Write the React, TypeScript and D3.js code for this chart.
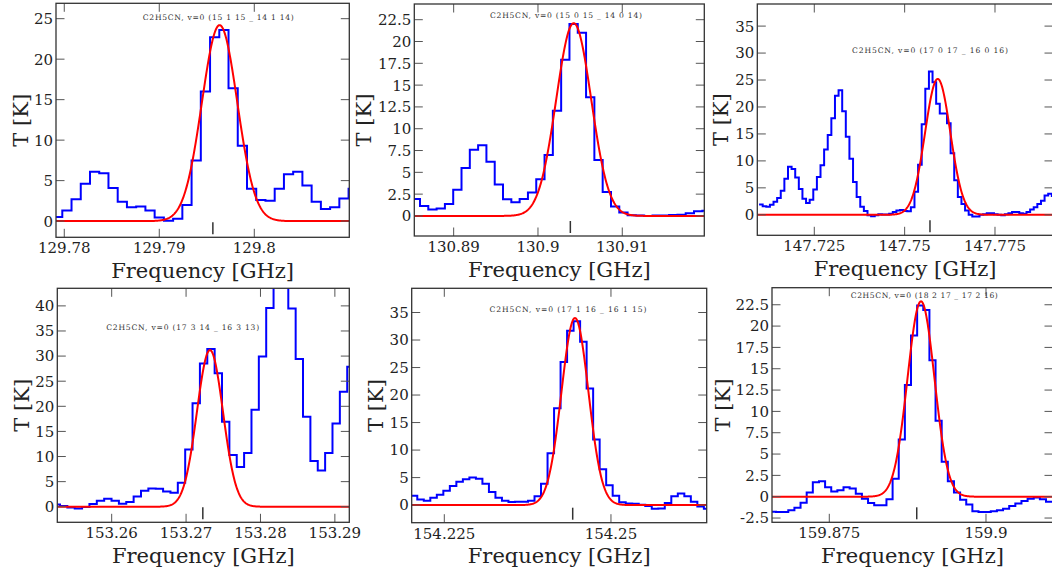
import React from "react";
import * as d3 from "d3";

// ---------------- DATA ----------------
const titles = [
  "C2H5CN, v=0 (15 1 15 _ 14 1 14)",
  "C2H5CN, v=0 (15 0 15 _ 14 0 14)",
  "C2H5CN, v=0 (17 0 17 _ 16 0 16)",
  "C2H5CN, v=0 (17 3 14 _ 16 3 13)",
  "C2H5CN, v=0 (17 1 16 _ 16 1 15)",
  "C2H5CN, v=0 (18 2 17 _ 17 2 16)",
];

// first channel lower edge (GHz) and channel width (GHz) per spectrum
const channelStarts = [129.77882, 130.88502, 147.70972, 153.25206, 154.21997, 159.86552];
const channelWidths = [0.000972, 0.000985, 0.001, 0.00099, 0.000977, 0.000979];

const spectrum1 = [0.5, 1.3, 2.7, 4.6, 6.1, 5.9, 4.1, 2.4, 1.7, 1.8, 1.3, 0.45, 0.05, 0.3, 2.0, 7.5, 16.0, 22.7, 23.6, 16.4, 9.3, 4.0, 2.6, 2.5, 4.0, 5.8, 6.1, 4.4, 2.4, 1.5, 1.7, 2.8, 4.0];
const spectrum2 = [1.95, 1.15, 0.73, 0.84, 1.38, 3.0, 5.5, 7.6, 8.1, 6.2, 3.6, 1.9, 1.57, 1.95, 2.7, 4.2, 7.0, 12.05, 17.9, 22.0, 21.0, 13.6, 6.4, 2.75, 1.07, 0.4, 0.08, 0.04, 0.0, 0.04, 0.04, 0.1, 0.15, 0.3, 0.55, 0.6, 0.6];
const spectrum3 = [1.9, 1.6, 1.5, 1.85, 2.4, 3.1, 4.45, 6.7, 8.9, 8.5, 6.9, 4.8, 3.0, 2.2, 2.8, 4.7, 7.0, 9.2, 12.1, 14.8, 17.9, 22.1, 23.1, 19.2, 14.5, 10.4, 6.1, 3.3, 1.5, 0.7, -0.06, -0.25, -0.06, 0.12, 0.06, 0.06, 0.2, 0.5, 0.8, 0.87,
  0.7, 0.65, 1.4, 4.3, 9.3, 16.8, 23.4, 26.6, 24.6, 20.6, 18.8, 18.8, 17.0, 11.4, 6.4, 3.3, 2.0, 0.8, 0.0, -0.3, -0.3, 0.0, 0.1, 0.3, 0.3, 0.1, 0.0, -0.1, 0.1, 0.3, 0.5, 0.5, 0.3, 0.2, 0.5, 1.0, 1.4, 2.0, 2.6, 3.6, 3.9, 3.5];
const spectrum4 = [0.46, 0.13, -0.13, -0.33, -0.07, 0.53, 1.2, 1.6, 1.2, 0.6, 0.93, 2.06, 3.2, 3.65, 3.6, 3.05, 2.8, 4.8, 11.4, 20.6, 28.5, 31.4, 26.6, 16.9, 10.3, 7.9, 10.7, 19.3, 29.9, 39.6, 46.0, 46.0, 39.5, 29.4, 17.9, 9.1, 7.2, 10.7, 16.6, 22.9, 27.9, 28.0];
const spectrum5 = [1.7, 1.03, 0.8, 1.33, 1.9, 2.6, 3.45, 4.25, 4.7, 5.0, 4.8, 3.9, 2.4, 1.33, 0.8, 0.55, 0.6, 0.6, 0.8, 1.6, 3.9, 9.4, 17.6, 26.0, 31.7, 33.4, 29.7, 21.2, 11.9, 6.5, 3.6, 1.7, 0.5, 0.3, 0.24, 0.06, -0.18, -0.67, -0.6, 0.36, 1.6, 2.1, 1.6, 0.6, -0.24, -0.67];
const spectrum6 = [-1.76, -1.8, -1.8, -1.6, -1.3, -0.7, 0.5, 1.7, 1.8, 1.1, 0.6, 0.75, 1.1, 0.95, 0.35, -0.25, -0.75, -1.0, -1.0, -0.3, 2.1, 6.7, 13.1, 18.9, 22.4, 21.9, 16.0, 8.9, 4.1, 1.8, 0.5, -0.35, -0.9, -1.7, -1.8, -1.8, -1.7, -1.6, -1.4, -1.1, -0.8, -0.5, -0.25, -0.1, -0.3, -0.6];
const spectra = [spectrum1, spectrum2, spectrum3, spectrum4, spectrum5, spectrum6];

// Gaussian fit parameters
const fitAmplitudes = [24.2, 22.1, 25.2, 31.2, 34.0, 22.9];
const fitCenters = [129.79635, 130.90424, 147.75915, 153.27321, 154.2446, 159.88963];
const fitSigmas = [0.00186, 0.00207, 0.00349, 0.00175, 0.00202, 0.00215];

// catalogue line frequency markers
const lineFrequencies = [129.79564, 130.90384, 147.75701, 153.27225, 154.24426, 159.88895];

// tick values
const xTicks = [
  [129.78, 129.79, 129.8],
  [130.89, 130.9, 130.91],
  [147.725, 147.75, 147.775],
  [153.26, 153.27, 153.28, 153.29],
  [154.225, 154.25],
  [159.875, 159.9],
];
const yTicks = [
  [0, 5, 10, 15, 20, 25],
  [0, 2.5, 5, 7.5, 10, 12.5, 15, 17.5, 20, 22.5],
  [0, 5, 10, 15, 20, 25, 30, 35],
  [0, 5, 10, 15, 20, 25, 30, 35, 40],
  [0, 5, 10, 15, 20, 25, 30, 35],
  [-2.5, 0, 2.5, 5, 7.5, 10, 12.5, 15, 17.5, 20, 22.5],
];

// ---------------- LAYOUT ----------------
const layouts = [
  { left: 56, right: 349.3, top: 3.3, bottom: 237.3, xDomain: [129.77913, 129.81], yDomain: [-2.0, 26.9], ylabelX: 28, titleX: 218.3, titleY: 20, titleW: 151 },
  { left: 414.3, right: 704.3, top: 4, bottom: 236, xDomain: [130.88533, 130.91973], yDomain: [-2.3, 24.3], ylabelX: 371, titleX: 566, titleY: 17.7, titleW: 152 },
  { left: 757.3, right: 1053, top: 4, bottom: 235.3, xDomain: [147.70923, 147.79105], yDomain: [-3.8, 39.1], ylabelX: 728, titleX: 930, titleY: 52.5, titleW: 156 },
  { left: 57.3, right: 349.3, top: 288.3, bottom: 522.3, xDomain: [153.25269, 153.29194], yDomain: [-3.1, 43.5], ylabelX: 29, titleX: 182.7, titleY: 330, titleW: 153 },
  { left: 411.7, right: 706.7, top: 288.3, bottom: 522.7, xDomain: [154.22011, 154.26436], yDomain: [-3.2, 39.4], ylabelX: 383, titleX: 568, titleY: 312, titleW: 157 },
  { left: 772, right: 1053, top: 287.7, bottom: 522.3, xDomain: [159.86586, 159.91069], yDomain: [-3.0, 24.5], ylabelX: 730, titleX: 924.3, titleY: 297.5, titleW: 147 },
];

const FONT = "'DejaVu Serif', serif";
const TICK_LEN = 8.5;

function Panel({ idx }: { idx: number }) {
  const L = layouts[idx];
  const x = d3.scaleLinear().domain(L.xDomain).range([L.left, L.right]);
  const y = d3.scaleLinear().domain(L.yDomain).range([L.bottom, L.top]);
  const vals = spectra[idx];
  const start = channelStarts[idx];
  const w = channelWidths[idx];

  const stepPts: [number, number][] = vals.map((v, i) => [start + i * w, v]);
  stepPts.push([start + vals.length * w, vals[vals.length - 1]]);
  const stepLine = d3
    .line<[number, number]>()
    .x((d) => x(d[0]))
    .y((d) => y(d[1]))
    .curve(d3.curveStepAfter);

  const amp = fitAmplitudes[idx];
  const c = fitCenters[idx];
  const s = fitSigmas[idx];
  const [x0, x1] = L.xDomain;
  const fitPts: [number, number][] = d3.range(600).map((k) => {
    const f = x0 + ((x1 - x0) * k) / 599;
    return [f, amp * Math.exp(-0.5 * ((f - c) / s) ** 2)];
  });
  const fitLine = d3
    .line<[number, number]>()
    .x((d) => x(d[0]))
    .y((d) => y(d[1]));

  const clipId = `clip-${idx}`;
  const cx = (L.left + L.right) / 2;
  const cy = (L.top + L.bottom) / 2;
  const lf = x(lineFrequencies[idx]);

  return (
    <g>
      <defs>
        <clipPath id={clipId}>
          <rect x={L.left} y={L.top} width={L.right - L.left} height={L.bottom - L.top} />
        </clipPath>
      </defs>
      <rect x={L.left} y={L.top} width={L.right - L.left} height={L.bottom - L.top} fill="#fff" />
      <g clipPath={`url(#${clipId})`}>
        <path d={stepLine(stepPts) || ""} fill="none" stroke="#0000ff" strokeWidth={2} />
        <path d={fitLine(fitPts) || ""} fill="none" stroke="#ff0000" strokeWidth={2} strokeLinejoin="round" />
      </g>
      {/* line marker */}
      <line x1={lf} x2={lf} y1={L.bottom - 3} y2={L.bottom - 15} stroke="#333" strokeWidth={1.5} />
      {/* ticks */}
      {xTicks[idx].map((t) => (
        <g key={`xt${t}`}>
          <line x1={x(t)} x2={x(t)} y1={L.bottom} y2={L.bottom - TICK_LEN} stroke="#555" strokeWidth={1} />
          <line x1={x(t)} x2={x(t)} y1={L.top} y2={L.top + TICK_LEN} stroke="#555" strokeWidth={1} />
          <text x={x(t)} y={L.bottom + 16} textAnchor="middle" fontFamily={FONT} fontSize={15} fill="#222">
            {String(t)}
          </text>
        </g>
      ))}
      {yTicks[idx].map((t) => (
        <g key={`yt${t}`}>
          <line x1={L.left} x2={L.left + TICK_LEN} y1={y(t)} y2={y(t)} stroke="#555" strokeWidth={1} />
          <line x1={L.right} x2={L.right - TICK_LEN} y1={y(t)} y2={y(t)} stroke="#555" strokeWidth={1} />
          <text x={L.left - 3} y={y(t)} dy="0.36em" textAnchor="end" fontFamily={FONT} fontSize={15} fill="#222">
            {String(t)}
          </text>
        </g>
      ))}
      <rect x={L.left} y={L.top} width={L.right - L.left} height={L.bottom - L.top} fill="none" stroke="#333" strokeWidth={1.3} />
      {/* title */}
      <text x={L.titleX} y={L.titleY} textAnchor="middle" fontFamily={FONT} fontSize={7.6} fill="#333" textLength={L.titleW} lengthAdjust="spacing">
        {titles[idx]}
      </text>
      {/* axis labels */}
      <text x={cx} y={L.bottom + 40.5} textAnchor="middle" fontFamily={FONT} fontSize={21} fill="#222">
        Frequency [GHz]
      </text>
      <text transform={`translate(${L.ylabelX},${cy}) rotate(-90)`} textAnchor="middle" fontFamily={FONT} fontSize={21} fill="#222">
        T [K]
      </text>
    </g>
  );
}

export default function App() {
  return (
    <div style={{ position: "absolute", left: 0, top: 0, width: 1052, height: 576, overflow: "hidden" }}>
      <svg width={1052} height={576} viewBox="0 0 1052 576" style={{ display: "block", background: "#fff" }}>
        <rect x={0} y={0} width={1052} height={576} fill="#fff" />
        {layouts.map((_, i) => (
          <Panel key={i} idx={i} />
        ))}
      </svg>
    </div>
  );
}
